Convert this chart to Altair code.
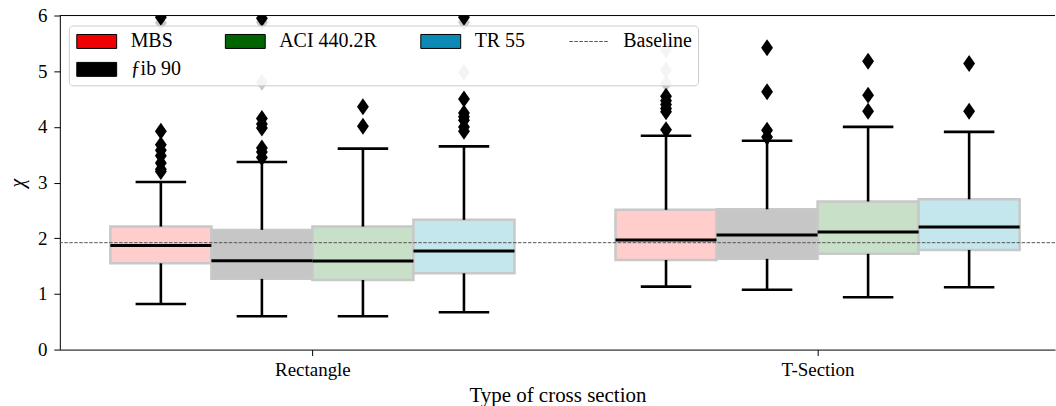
import altair as alt
import pandas as pd

sections = ["Rectangle", "T-Section"]
methods = ["MBS", "ƒib 90", "ACI 440.2R", "TR 55"]

# order: Rectangle (MBS, fib 90, ACI 440.2R, TR 55), then T-Section (same order)
box_q1 = [1.55, 1.27, 1.25, 1.37, 1.61, 1.63, 1.72, 1.79]
box_med = [1.87, 1.595, 1.59, 1.77, 1.97, 2.06, 2.11, 2.20]
box_q3 = [2.21, 2.15, 2.21, 2.33, 2.51, 2.52, 2.66, 2.70]
whisk_lo = [0.82, 0.60, 0.60, 0.67, 1.13, 1.075, 0.94, 1.12]
whisk_hi = [3.01, 3.37, 3.61, 3.65, 3.84, 3.75, 4.00, 3.91]

outliers_dark = [
    [3.92, 3.68, 3.58, 3.48, 3.35, 3.24, 3.20, 5.97],
    [4.15, 4.05, 3.98, 3.62, 3.55, 3.45, 5.95],
    [4.36, 4.01],
    [4.50, 4.25, 4.18, 4.12, 4.00, 3.92, 5.97],
    [4.55, 4.47, 4.40, 4.33, 4.27, 3.95],
    [5.42, 4.63, 3.94, 3.82],
    [5.18, 4.57, 4.28],
    [5.14, 4.28],
]
outliers_light = [
    [5.87],
    [5.88, 4.80],
    [],
    [5.88, 4.98],
    [4.78, 5.02, 5.38],
    [],
    [],
    [],
]
baseline_value = 1.92

box_fills = ["#ffcdcb", "#c6c6c6", "#c8dfc8", "#c4e7ee"]
# legend entries in the order they appear (row by row)
legend_names = ["MBS", "ACI 440.2R", "TR 55", "Baseline", "ƒib 90"]
legend_fills = ["#f00000", "#006400", "#0a8ab5", "#555555", "#000000"]
legend_strokes = ["#000000", "#000000", "#000000", "transparent", "#000000"]

# ---------------- tables ----------------
box_rows, pt_rows = [], []
for si, sec in enumerate(sections):
    for mi, m in enumerate(methods):
        k = si * 4 + mi
        pos = si + (mi - 1.5) * 0.2
        box_rows.append(dict(section=sec, method=m, pos=pos, lo=pos - 0.1, hi=pos + 0.1,
                             clo=pos - 0.05, chi=pos + 0.05, q1=box_q1[k], med=box_med[k],
                             q3=box_q3[k], wlo=whisk_lo[k], whi=whisk_hi[k], fill=box_fills[mi]))
        for v in outliers_light[k]:
            pt_rows.append(dict(pos=pos, val=v, tone="light"))
        for v in outliers_dark[k]:
            pt_rows.append(dict(pos=pos, val=v, tone="dark"))
boxes = pd.DataFrame(box_rows)
points = pd.DataFrame(pt_rows)

W, H = 998, 335
FONT = "Liberation Serif"
XS = alt.Scale(domain=[-0.5, 1.47], nice=False, zero=False)
YS = alt.Scale(domain=[0, 6], nice=False, zero=False)
label_expr = "datum.value == 0 ? '%s' : '%s'" % (sections[0], sections[1])
x_axis = alt.Axis(values=[0, 1], labelExpr=label_expr, title="Type of cross section", grid=False,
                  tickSize=6, labelPadding=5, titlePadding=5, titleFontSize=21)
y_axis = alt.Axis(values=list(range(7)), title="χ", grid=False, tickSize=6, labelPadding=7,
                  titlePadding=10, titleFontStyle="italic", titleFontSize=20)


def X(f):
    return alt.X(f"{f}:Q", scale=XS, axis=x_axis)


def Y(f):
    return alt.Y(f"{f}:Q", scale=YS, axis=y_axis)


base = alt.Chart(boxes)
box_layer = base.mark_rect(stroke="#c8c8c8", strokeWidth=2.5).encode(
    x=X("lo"), x2=alt.X2("hi"), y=Y("q1"), y2=alt.Y2("q3"),
    fill=alt.Fill("fill:N", scale=None))
med_layer = base.mark_rule(color="black", strokeWidth=3).encode(
    x=X("lo"), x2=alt.X2("hi"), y=Y("med"))
wh_up = base.mark_rule(color="black", strokeWidth=2.6).encode(x=X("pos"), y=Y("q3"), y2=alt.Y2("whi"))
wh_dn = base.mark_rule(color="black", strokeWidth=2.6).encode(x=X("pos"), y=Y("q1"), y2=alt.Y2("wlo"))
cap_up = base.mark_rule(color="black", strokeWidth=2.6).encode(x=X("clo"), x2=alt.X2("chi"), y=Y("whi"))
cap_dn = base.mark_rule(color="black", strokeWidth=2.6).encode(x=X("clo"), x2=alt.X2("chi"), y=Y("wlo"))

diamond = "M0,-1L0.7,0L0,1L-0.7,0Z"
pts_light = alt.Chart(points).transform_filter("datum.tone == 'light'").mark_point(
    shape=diamond, filled=True, color="#c8c8c8", opacity=1, size=289, clip=True).encode(
    x=X("pos"), y=Y("val"))
pts_dark = alt.Chart(points).transform_filter("datum.tone == 'dark'").mark_point(
    shape=diamond, filled=True, color="black", opacity=1, size=289, clip=True).encode(
    x=X("pos"), y=Y("val"))

base_line = alt.Chart(pd.DataFrame({"v": [baseline_value]})).mark_rule(
    color="#555555", strokeWidth=1, strokeDash=[3.5, 1.5]).encode(y=Y("v"))
top_spine = alt.Chart(pd.DataFrame({"v": [6]})).mark_rule(color="black", strokeWidth=1).encode(
    y=Y("v"), x=alt.value(0), x2=alt.value(W))

# legend
rect_path = "M-2.857,-1H2.857V1H-2.857Z"
dash_path = " ".join(
    "M%.3f,-0.07H%.3fV0.07H%.3fZ" % (-2.857 + i * 0.714, -2.857 + i * 0.714 + 0.5, -2.857 + i * 0.714)
    for i in range(8))
legend_shapes = [rect_path, rect_path, rect_path, dash_path, rect_path]
leg_props = dict(title=None, orient="none", legendX=9, legendY=10, columns=4, columnPadding=42,
                 direction="horizontal",
                 rowPadding=8, padding=6, symbolSize=196, symbolOffset=12, labelOffset=24,
                 labelFont=FONT, labelFontSize=20, labelColor="black",
                 fillColor="rgba(255,255,255,0.8)", strokeColor="#cccccc", cornerRadius=4,
                 symbolStrokeWidth=1)
legend_df = pd.DataFrame({"name": legend_names, "pos": [0] * 5, "val": [-1] * 5})
legend_layer = alt.Chart(legend_df).mark_point(filled=True, opacity=1, size=196, clip=True).encode(
    x=X("pos"), y=Y("val"),
    fill=alt.Fill("name:N", scale=alt.Scale(domain=legend_names, range=legend_fills),
                  legend=alt.Legend(**leg_props)),
    stroke=alt.Stroke("name:N", scale=alt.Scale(domain=legend_names, range=legend_strokes),
                      legend=alt.Legend(**leg_props)),
    shape=alt.Shape("name:N", scale=alt.Scale(domain=legend_names, range=legend_shapes),
                    legend=alt.Legend(**leg_props)),
)

chart = alt.layer(
    box_layer, med_layer, wh_up, wh_dn, cap_up, cap_dn, pts_light, pts_dark, base_line, top_spine,
    legend_layer
).properties(
    width=W, height=H, padding={"left": 7, "top": 6, "right": 0, "bottom": 0}
).configure_view(stroke=None).configure_axis(
    domainColor="black", domainWidth=1, tickColor="black", tickWidth=1,
    labelFont=FONT, labelFontSize=19, labelColor="black",
    titleFont=FONT, titleFontSize=19, titleColor="black", titleFontWeight="normal"
)

chart.save("out.html", embed_options={"renderer": "svg", "actions": False})
